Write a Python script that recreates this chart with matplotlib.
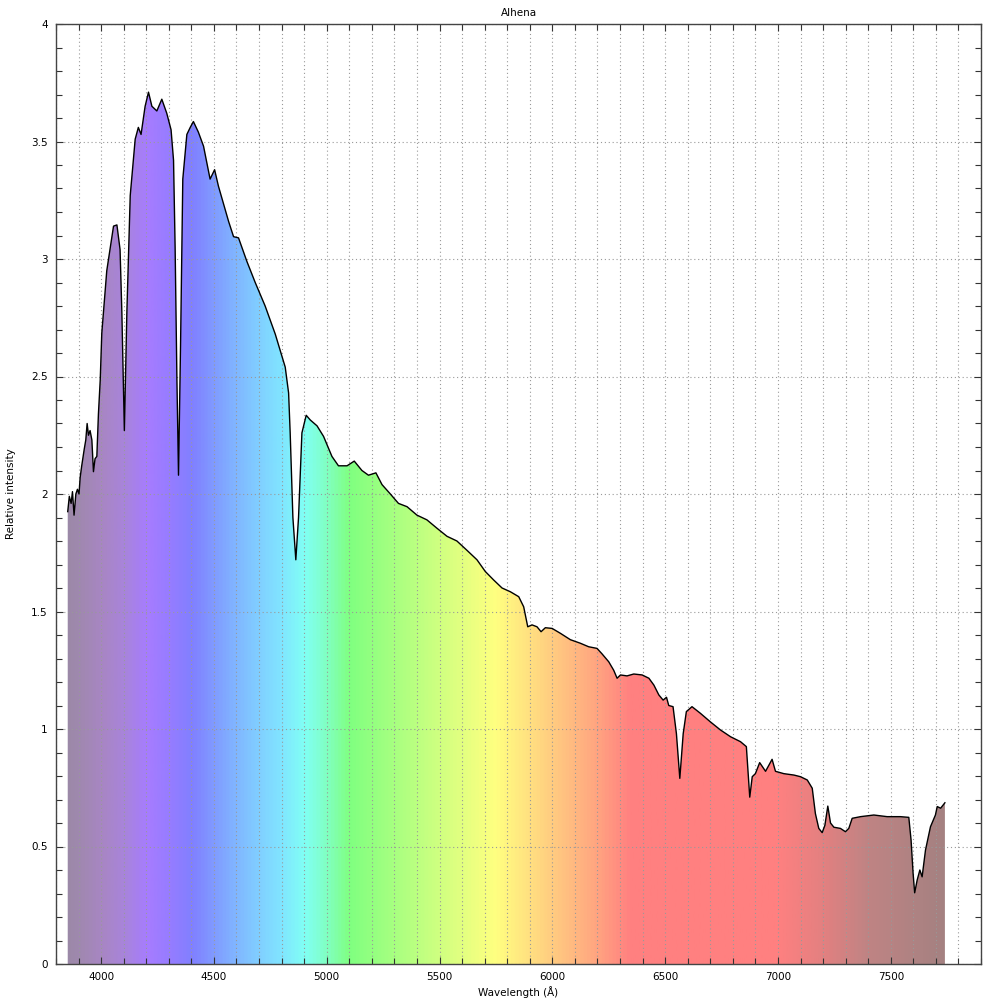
import numpy as np
import matplotlib
matplotlib.use('Agg')
import matplotlib.pyplot as plt
from matplotlib.colors import LinearSegmentedColormap
from matplotlib.patches import Polygon
from matplotlib.ticker import MultipleLocator

# spectrum (wavelength in Angstrom, relative intensity)
wavelength = [
    3852, 3859, 3867, 3873, 3880, 3888, 3895, 3902, 3907, 3914, 3925, 3932,
    3938, 3944, 3951, 3959, 3966, 3973, 3981, 3988, 3996, 4003, 4025, 4055,
    4070, 4084, 4092, 4103, 4114, 4129, 4151, 4165, 4177, 4195, 4210, 4225,
    4247, 4269, 4291, 4310, 4321, 4328, 4336, 4343, 4352, 4362, 4380, 4395,
    4409, 4431, 4454, 4483, 4503, 4520, 4565, 4587, 4609, 4646, 4683, 4727,
    4772, 4794, 4816, 4831, 4838, 4850, 4863, 4875, 4890, 4909, 4927, 4957,
    4986, 5023, 5052, 5090, 5122, 5156, 5185, 5218, 5245, 5282, 5318, 5356,
    5400, 5444, 5489, 5533, 5577, 5622, 5666, 5703, 5740, 5777, 5814, 5851,
    5873, 5891, 5910, 5932, 5950, 5969, 5999, 6036, 6080, 6124, 6161, 6198,
    6220, 6250, 6272, 6287, 6302, 6331, 6361, 6398, 6428, 6450, 6472, 6491,
    6506, 6516, 6535, 6550, 6565, 6580, 6594, 6619, 6656, 6701, 6745, 6790,
    6834, 6860, 6866, 6875, 6886, 6900, 6919, 6945, 6974, 6989, 7026, 7071,
    7100, 7130, 7152, 7166, 7181, 7196, 7208, 7221, 7233, 7248, 7277, 7299,
    7314, 7329, 7366, 7425, 7484, 7543, 7580, 7590, 7599, 7606, 7617, 7629,
    7639, 7654, 7676, 7698, 7706, 7721, 7740,
]
intensity = [
    1.925, 1.99, 1.96, 2.01, 1.91, 2.00, 2.02, 2.00, 2.07, 2.12, 2.19, 2.23,
    2.30, 2.25, 2.27, 2.23, 2.095, 2.15, 2.16, 2.34, 2.485, 2.685, 2.95, 3.14,
    3.145, 3.04, 2.77, 2.27, 2.77, 3.27, 3.51, 3.56, 3.53, 3.65, 3.71, 3.65,
    3.63, 3.68, 3.62, 3.55, 3.42, 3.05, 2.485, 2.08, 2.63, 3.34, 3.53, 3.56,
    3.585, 3.54, 3.48, 3.34, 3.38, 3.31, 3.16, 3.095, 3.09, 2.99, 2.90, 2.80,
    2.68, 2.61, 2.54, 2.43, 2.26, 1.90, 1.72, 1.90, 2.26, 2.335, 2.315, 2.29,
    2.245, 2.16, 2.12, 2.12, 2.14, 2.10, 2.08, 2.09, 2.04, 2.00, 1.96, 1.946,
    1.91, 1.89, 1.854, 1.82, 1.80, 1.76, 1.72, 1.67, 1.634, 1.60, 1.584, 1.563,
    1.52, 1.435, 1.443, 1.435, 1.414, 1.431, 1.428, 1.407, 1.38, 1.365, 1.35, 1.343,
    1.32, 1.286, 1.25, 1.216, 1.23, 1.226, 1.234, 1.23, 1.216, 1.187, 1.145, 1.123,
    1.135, 1.10, 1.095, 0.98, 0.79, 0.98, 1.074, 1.095, 1.067, 1.03, 0.996, 0.967,
    0.946, 0.925, 0.84, 0.71, 0.797, 0.81, 0.857, 0.82, 0.871, 0.82, 0.81, 0.804,
    0.797, 0.783, 0.748, 0.64, 0.577, 0.559, 0.59, 0.672, 0.60, 0.582, 0.577, 0.563,
    0.577, 0.62, 0.627, 0.634, 0.627, 0.627, 0.624, 0.528, 0.386, 0.303, 0.357, 0.40,
    0.371, 0.485, 0.584, 0.634, 0.67, 0.663, 0.686,
]

# colour of the fill under the curve, by wavelength
color_stops = [3800, 3900, 4000, 4100, 4200, 4300, 4400, 4500, 4600, 4700, 4800,
               4900, 5000, 5100, 5300, 5500, 5750, 5900, 6000, 6200, 6350, 7000,
               7200, 7400, 7900]
stop_colors = ['#988aa0', '#a088b0', '#a886c4', '#a884dc', '#a67cff', '#967cff',
               '#8080ff', '#809cff', '#80b8ff', '#80d0ff', '#80e6ff', '#80fff4',
               '#80ffc0', '#80ff80', '#a8ff80', '#d0ff80', '#ffff80', '#ffe080',
               '#ffcc80', '#ffa480', '#ff8080', '#ff8080', '#e48080', '#c08484',
               '#988080']

x_min, x_max = 3800, 7900
y_min, y_max = 0, 4

wl = np.array(wavelength, dtype=float)
fl = np.array(intensity, dtype=float)

pos = [(s - x_min) / (x_max - x_min) for s in color_stops]
cmap = LinearSegmentedColormap.from_list('spec', list(zip(pos, stop_colors)))

plt.rcParams['font.family'] = 'DejaVu Sans'
plt.rcParams['font.size'] = 7.5

fig = plt.figure(figsize=(10, 10), dpi=100)
ax = fig.add_axes([0.056, 0.036, 0.925, 0.94])

# gradient image clipped to the area under the spectrum
grad = np.linspace(0, 1, 2000).reshape(1, -1)
im = ax.imshow(grad, cmap=cmap, extent=[x_min, x_max, y_min, y_max],
               aspect='auto', origin='lower', zorder=1, interpolation='bilinear')
verts = [(wl[0], 0)] + list(zip(wl, fl)) + [(wl[-1], 0)]
poly = Polygon(verts, closed=True, facecolor='none', edgecolor='none')
ax.add_patch(poly)
im.set_clip_path(poly)

ax.plot(wl, fl, color='black', lw=1.0, zorder=4)

ax.set_xlim(x_min, x_max)
ax.set_ylim(y_min, y_max)
ax.xaxis.set_major_locator(MultipleLocator(500))
ax.xaxis.set_minor_locator(MultipleLocator(100))
ax.yaxis.set_major_locator(MultipleLocator(0.5))
ax.yaxis.set_minor_locator(MultipleLocator(0.1))
ax.yaxis.set_major_formatter(plt.FuncFormatter(lambda v, p: '%g' % v))

# dotted grid: every 100 A vertically, every 0.5 horizontally
ax.grid(which='minor', axis='x', color='#999999', ls=(0, (1, 2.5)), lw=0.8, zorder=3)
ax.grid(which='major', axis='x', color='#999999', ls=(0, (1, 2.5)), lw=0.8, zorder=3)
ax.grid(which='major', axis='y', color='#999999', ls=(0, (1, 2.5)), lw=0.8, zorder=3)

ax.tick_params(which='both', direction='in', top=True, right=True,
               color='#333333', width=0.8)
ax.tick_params(which='major', length=5, pad=6)
ax.tick_params(which='minor', length=4)
for s in ax.spines.values():
    s.set_color('#444444')
    s.set_linewidth(1.0)

ax.set_title('Alhena', fontsize=7.5, pad=6)
ax.set_xlabel('Wavelength (\u00c5)', fontsize=7.5, labelpad=3)
ax.set_ylabel('Relative intensity', fontsize=7.5, labelpad=11)

fig.savefig('out.png', dpi=100)
